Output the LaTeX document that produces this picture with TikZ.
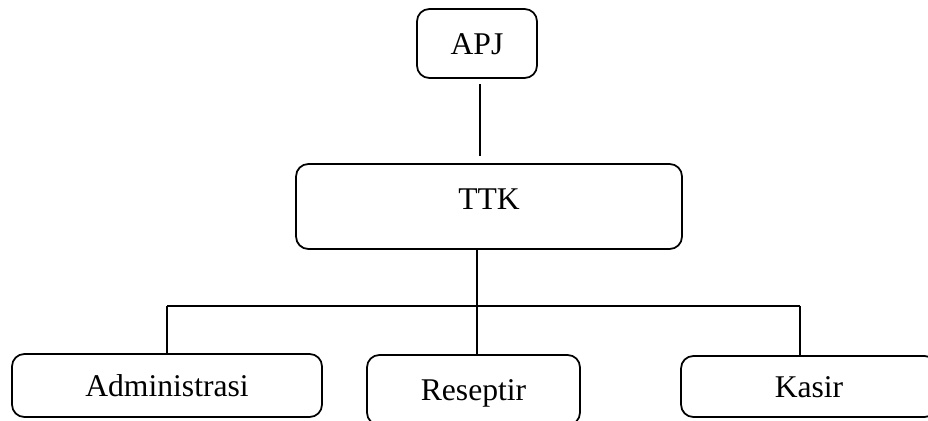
\documentclass[tikz,border=0pt]{standalone}
\usepackage{fontspec}
\setmainfont{Liberation Serif}

\begin{document}
\begin{tikzpicture}[x=0.02cm,y=-0.02cm,
    box/.style={draw,line width=1pt,rounded corners=7pt,
      font=\fontsize{18}{20}\selectfont,text height=12pt,text depth=0pt},
    link/.style={line width=1pt}]
\useasboundingbox (0,0) rectangle (928,421);
\clip (0,0) rectangle (928,421);

\node[box,minimum width=2.4cm,minimum height=1.38cm] (apj) at (477,43.5) {APJ};
\node[box,minimum width=7.72cm,minimum height=1.7cm,text depth=9pt] (ttk) at (489,206.5) {TTK};

% Bottom row.
\node[box,minimum width=6.2cm,minimum height=1.26cm] (adm) at (167,385.5) {Administrasi};
\node[box,minimum width=4.26cm,minimum height=1.4cm] (res) at (473.5,390) {Reseptir};
\node[box,minimum width=5.12cm,minimum height=1.22cm] (kas) at (809,386.5) {Kasir};

\coordinate (top) at (480,0);
\coordinate (hub) at (477,306);
\coordinate (barL) at (167,306);
\coordinate (barR) at (800,306);

\draw[link,shorten <=3pt,shorten >=4pt] (apj.south -| top) -- (ttk.north -| top);
\draw[link] (ttk.south -| hub) -- (hub |- res.north);
\draw[link] (barL) -- (barR);
\draw[link] (barL) -- (barL |- adm.north);
\draw[link] (barR) -- (barR |- kas.north);

\end{tikzpicture}
\end{document}
